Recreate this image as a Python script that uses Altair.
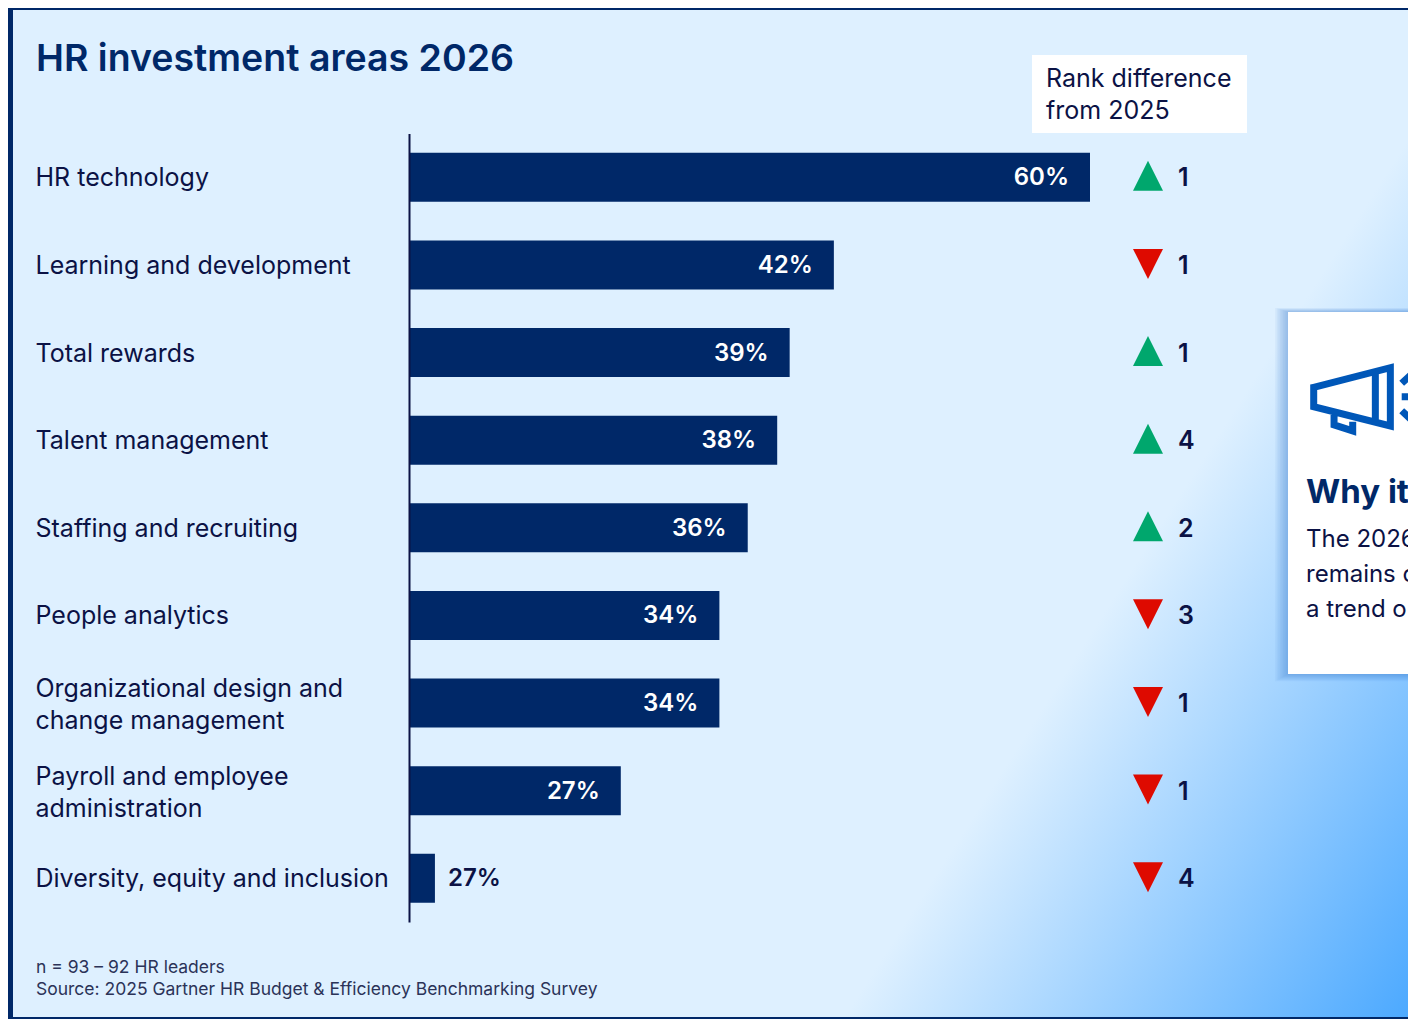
import altair as alt
import pandas as pd

alt.data_transformers.disable_max_rows()

categories = ["HR technology", "Learning and development", "Total rewards", "Talent management",
              "Staffing and recruiting", "People analytics",
              "Organizational design and\nchange management",
              "Payroll and employee\nadministration", "Diversity, equity and inclusion"]
bar_values = [60, 37.4, 33.5, 32.4, 29.8, 27.3, 27.3, 18.6, 2.2]
value_labels = ["60%", "42%", "39%", "38%", "36%", "34%", "34%", "27%", "27%"]
rank_change = [1, 1, 1, 4, 2, 3, 1, 1, 4]
rank_dir = ["up", "down", "up", "up", "up", "down", "down", "down", "down"]

NAVY = "#002868"
INK = "#0B1245"
FONT = "Inter"
W, H = 1400, 1011

df = pd.DataFrame({"cat": categories, "v": bar_values, "lab": value_labels,
                   "rank": [str(r) for r in rank_change], "dir": rank_dir})

Y = alt.Y("cat:N", sort=categories, title=None,
          scale=alt.Scale(range=[125.5, 914.1], paddingInner=0.44, paddingOuter=0.22),
          axis=alt.Axis(offset=-401, ticks=False, domainColor=INK, domainWidth=2, labelAlign="left",
                        labelPadding=374, labelLimit=400, labelFont=FONT, labelFontSize=25,
                        labelColor=INK, labelLineHeight=32, labelBaseline="middle", zindex=1,
                        labelOffset={"condition": {"test": "indexof(datum.label, '\\n') >= 0", "value": -14},
                                     "value": 1},
                        labelExpr="split(datum.label, '\\n')", grid=False))
X = alt.X("v:Q", title=None, axis=None, scale=alt.Scale(domain=[0, 60], range=[402, 1082]))
one = alt.Data(values=[{"a": 1}])


def box(x, x2, y, y2, **kw):
    return alt.Chart(one).mark_rect(**kw).encode(
        x=alt.value(x), x2=alt.value(x2), y=alt.value(y), y2=alt.value(y2))


def note(text, x, y, **kw):
    kw.setdefault("font", FONT)
    kw.setdefault("align", "left")
    kw.setdefault("baseline", "alphabetic")
    return alt.Chart(one).mark_text(text=text, **kw).encode(x=alt.value(x), y=alt.value(y))


bg = box(0, W, 0, H, fill=alt.Gradient(
    gradient="linear", x1=0.668, y1=0.846, x2=1, y2=1,
    stops=[alt.GradientStop(offset=0, color="#DEF0FF"), alt.GradientStop(offset=1, color="#4CA9FF")]))

border = [box(0, 5, 0, H, fill=NAVY), box(0, W, 0, 2, fill=NAVY), box(0, W, H - 2, H, fill=NAVY)]

bars = alt.Chart(df).mark_bar(color=NAVY).encode(x=X, y=Y)
inside = alt.Chart(df[df.v > 10]).mark_text(align="right", dx=-21, dy=1, font=FONT, fontSize=24, fontWeight=600,
                                            color="white").encode(x=X, y=Y, text="lab:N")
outside = alt.Chart(df[df.v <= 10]).mark_text(align="left", dx=13, dy=1, font=FONT, fontSize=24, fontWeight=600,
                                              color=INK).encode(x=X, y=Y, text="lab:N")
tri = alt.Chart(df).mark_point(filled=True, opacity=1, size=900, strokeWidth=0).encode(
    x=alt.value(1140), y=Y,
    shape=alt.Shape("dir:N", legend=None, scale=alt.Scale(
        domain=["up", "down"], range=["M-1,0.9L1,0.9L0,-1.1Z", "M-1,-1.07L1,-1.07L0,0.93Z"])),
    color=alt.Color("dir:N", legend=None, scale=alt.Scale(
        domain=["up", "down"], range=["#00A76D", "#DE0A00"])))
ranks = alt.Chart(df).mark_text(align="left", dy=1, font=FONT, fontSize=25, fontWeight=600, color=INK).encode(
    x=alt.value(1170), y=Y, text="rank:N")

header = [box(1024, 1239, 47, 125, fill="white"),
          note("Rank difference", 1038, 79, fontSize=25, color=INK),
          note("from 2025", 1038, 111, fontSize=25, color=INK)]

shadow = [box(1280 - s * 1.6, W, 304 - s * 0.5, 666 + s * 0.9, fill="#2F7FD0", opacity=0.06) for s in range(1, 9)]
card = box(1280, W, 304, 666, fill="white")
icon_path = ("M-0.96,-0.22L0.573,-0.613L0.573,0.553L-0.96,0.167Z"
             "M0.273,-0.547L0.273,0.48"
             "M-0.553,0.333L-0.553,0.533L-0.18,0.653L-0.18,0.467"
             "M0.8,-0.3L0.98,-0.467M0.8,-0.033L1.053,-0.033M0.8,0.247L0.98,0.42")
icon = alt.Chart(one).mark_point(shape=icon_path, size=10000, filled=False, stroke="#0057B8",
                                 strokeWidth=7, opacity=1).encode(x=alt.value(1353.7), y=alt.value(390.3))
card_text = [note("Why it", 1298, 495, fontSize=33, fontWeight=700, color=NAVY),
             note("The 2026", 1298, 539, fontSize=24, color=INK),
             note("remains o", 1298, 574, fontSize=24, color=INK),
             note("a trend o", 1298, 609, fontSize=24, color=INK)]

title = note("HR investment areas 2026", 28, 63, fontSize=37.5, fontWeight=600, color=NAVY)
foot = [note("n = 93 – 92 HR leaders", 28, 965, fontSize=17.5, color="#2B3358"),
        note("Source: 2025 Gartner HR Budget & Efficiency Benchmarking Survey", 28, 987, fontSize=17.5, color="#2B3358")]

chart = alt.layer(bg, *border, bars, inside, outside, tri, ranks, *header, *shadow, card, icon, *card_text,
                  title, *foot).properties(
    width=W, height=H, padding=0, autosize=alt.AutoSizeParams(type="none"),
    background="#DEF0FF",
).configure_view(stroke=None)

chart.save("out.html", embed_options={"renderer": "svg", "actions": False})
